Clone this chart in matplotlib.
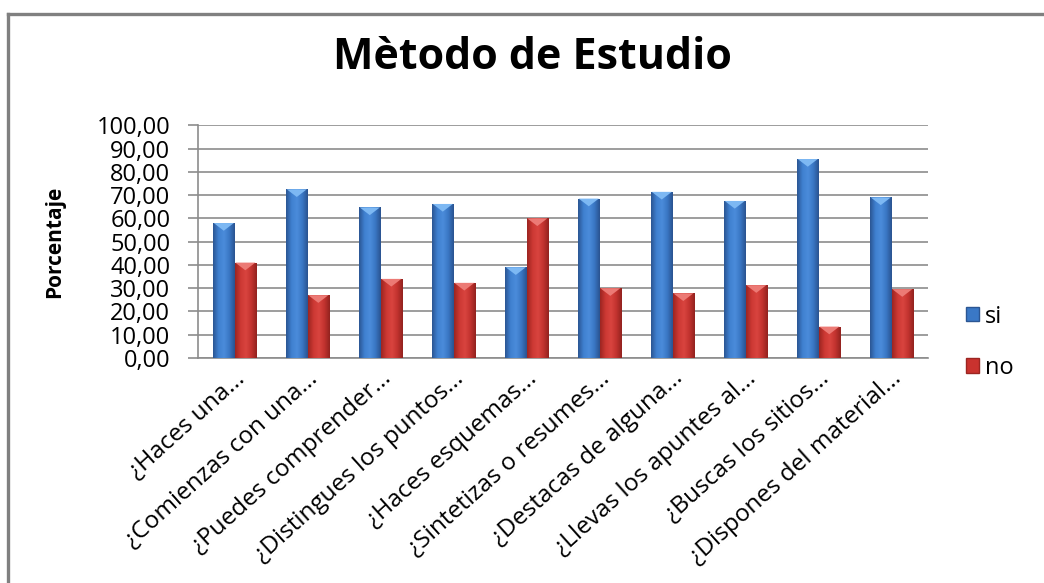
import numpy as np
import matplotlib
matplotlib.use('Agg')
import matplotlib.pyplot as plt
import matplotlib.ticker as mticker
from matplotlib.colors import LinearSegmentedColormap
from matplotlib.patches import Patch, Polygon
from matplotlib.lines import Line2D
import matplotlib.transforms as mtransforms

plt.rcParams['font.family'] = ['Open Sans', 'DejaVu Sans']

categories = [
    '¿Haces una...',
    '¿Comienzas con una...',
    '¿Puedes comprender...',
    '¿Distingues los puntos...',
    '¿Haces esquemas...',
    '¿Sintetizas o resumes...',
    '¿Destacas de alguna...',
    '¿Llevas los apuntes al...',
    '¿Buscas los sitios...',
    '¿Dispones del material...',
]
si_vals = [58.0, 72.5, 64.7, 66.2, 39.0, 68.5, 71.4, 67.5, 85.5, 69.0]
no_vals = [41.0, 27.0, 34.0, 32.3, 60.0, 30.0, 27.8, 31.3, 13.5, 29.6]
series_names = ['si', 'no']

# bar shading: dark edges, lighter body, pale bevel on top
_BLUE_BASE = '#3a78c6'
_RED_BASE = '#c9322e'
blue_cmap = LinearSegmentedColormap.from_list(
    'blue_bar', ['#2b5693', '#3f80d0', '#4b8cdb', '#3a77c4', '#2a5390'])
red_cmap = LinearSegmentedColormap.from_list(
    'red_bar', ['#9c2521', '#cc3833', '#d9443f', '#c2332f', '#92221f'])
bevel = {'si': '#7db8f3', 'no': '#ec7a75'}

fig = plt.figure(figsize=(10.44, 5.83), dpi=100)
ax = fig.add_axes([0.1897, 0.3859, 0.6992, 0.3992])

x = np.arange(len(categories))
w = 0.295
grad = np.linspace(0, 1, 64).reshape(1, -1)

for vals, offset, cmap, name, base in [
        (si_vals, -w / 2, blue_cmap, 'si', _BLUE_BASE),
        (no_vals, w / 2, red_cmap, 'no', _RED_BASE)]:
    bars = ax.bar(x + offset, vals, width=w, color=base, zorder=3,
                  linewidth=0)
    for bar, v in zip(bars, vals):
        x0 = bar.get_x()
        x1 = x0 + bar.get_width()
        im = ax.imshow(grad, cmap=cmap, extent=[x0, x1, 0, v],
                       aspect='auto', zorder=3.5, interpolation='bilinear')
        im.set_clip_path(bar)
        tri = Polygon([[x0 + 0.01, v], [x1 - 0.01, v], [(x0 + x1) / 2, v - 3.3]],
                      closed=True, facecolor=bevel[name], edgecolor='none',
                      zorder=4)
        ax.add_patch(tri)

ax.set_xlim(-0.5, len(categories) - 0.5)
ax.set_ylim(0, 100)
ax.set_yticks(np.arange(0, 101, 10))
ax.yaxis.set_major_formatter(
    mticker.FuncFormatter(lambda v, p: f'{v:.2f}'.replace('.', ',')))
ax.grid(axis='y', color='#8c8c8c', linewidth=1.2, zorder=0)
ax.set_axisbelow(True)
for side in ('top', 'right'):
    ax.spines[side].set_visible(False)
for side in ('left', 'bottom'):
    ax.spines[side].set_color('#8c8c8c')
    ax.spines[side].set_linewidth(1.2)
ax.tick_params(axis='y', length=7, width=1.2, color='#8c8c8c',
               labelsize=17, pad=13)
ax.tick_params(axis='x', length=0, pad=6)

ax.set_xticks(x)
ax.set_xticklabels(categories, rotation=42, ha='right', va='top',
                   fontsize=17.5)
shift = mtransforms.ScaledTranslation(15 / 100, 0, fig.dpi_scale_trans)
for lbl in ax.get_xticklabels():
    lbl.set_transform(lbl.get_transform() + shift)

ax.set_ylabel('Porcentaje', fontsize=15, fontweight='bold')
ax.yaxis.set_label_coords(-0.182, 0.5)
fig.text(532 / 1044, 1 - 69 / 583, 'Mètodo de Estudio', ha='center',
         va='baseline', fontsize=31, fontweight='bold')

handles = [Patch(facecolor=_BLUE_BASE, edgecolor='#2b5693'),
           Patch(facecolor=_RED_BASE, edgecolor='#9c2521')]
fig.legend(handles, series_names, loc='center left',
           bbox_to_anchor=(0.905, 0.413), frameon=False, fontsize=17,
           handlelength=0.55, handleheight=0.55, handletextpad=0.25,
           labelspacing=1.15)

# outer chart frame (left and top edges)
fig.add_artist(Line2D([8 / 1044, 8 / 1044], [0, 1 - 14 / 583],
                      transform=fig.transFigure, color='#808080', lw=2.4))
fig.add_artist(Line2D([8 / 1044, 1], [1 - 14 / 583, 1 - 14 / 583],
                      transform=fig.transFigure, color='#808080', lw=2.4))

fig.savefig('out.png', dpi=100)
